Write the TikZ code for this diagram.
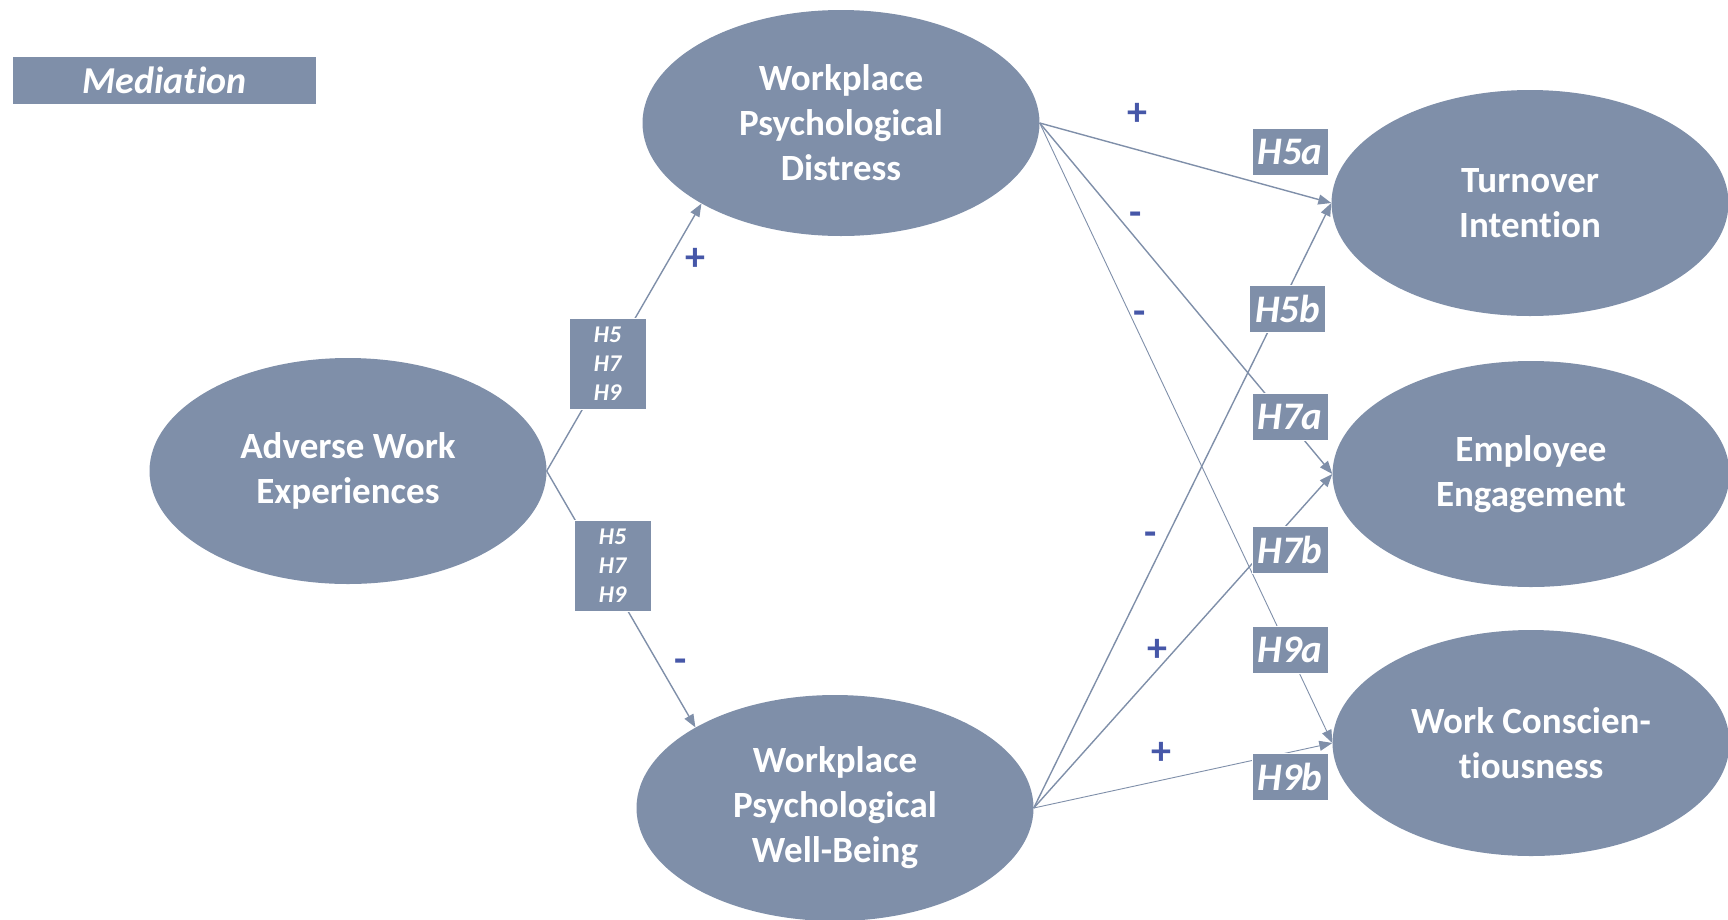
\documentclass[tikz,border=0pt]{standalone}
\usepackage{fontspec}
\setmainfont[Ligatures={NoCommon}]{Carlito}
\usetikzlibrary{arrows.meta,shapes.geometric}
\definecolor{slate}{HTML}{7F8FA9}
\definecolor{signblue}{HTML}{4657A8}
\begin{document}
\begin{tikzpicture}[x=1pt,y=-1pt,
  construct/.style={ellipse,fill=slate,draw=none,minimum width=397pt,minimum height=226pt,
    inner sep=0pt,align=center,text=white,font=\fontsize{37}{45}\selectfont\bfseries},
  hyp/.style={fill=slate,draw=white,line width=0.6pt,minimum width=76pt,minimum height=47pt,
    inner sep=0pt,text=white,font=\fontsize{39}{40}\selectfont\bfseries\itshape},
  hypgroup/.style={fill=slate,draw=white,line width=0.6pt,minimum width=77pt,minimum height=91pt,
    inner sep=0pt,align=center,text=white,font=\fontsize{24}{29}\selectfont\bfseries\itshape},
  sign/.style={text=signblue,inner sep=0pt,font=\fontsize{40}{40}\selectfont\bfseries},
  path/.style={draw=slate,line width=1.4pt,-{Triangle[length=13pt,width=10pt]}},
  thinpath/.style={draw=slate,line width=0.9pt,-{Triangle[length=13pt,width=10pt]}}]

\useasboundingbox (0,0) rectangle (1728,919);

% title tag
\node[fill=slate,minimum width=303pt,minimum height=47pt,inner sep=0pt,text=white,
  font=\fontsize{38}{40}\selectfont\bfseries\itshape] (title) at (164.5,80.5) {Mediation};

% constructs
\node[construct] (awe) at (348,471) {Adverse Work\\Experiences};
\node[construct] (wpd) at (841,123) {Workplace\\Psychological\\Distress};
\node[construct] (wpwb) at (835,808) {Workplace\\Psychological\\Well-Being};
\node[construct] (ti) at (1530,203) {Turnover\\Intention};
\node[construct] (ee) at (1531,474) {Employee\\Engagement};
\node[construct] (wc) at (1531,743) {Work Conscien-\\tiousness};

% paths
\draw[path] (awe.east) -- (wpd.210);
\draw[path] (awe.east) -- (wpwb.150);
\draw[path] (wpd.east) -- (ti.west);
\draw[path] (wpd.east) -- (ee.west);
\draw[thinpath] (wpd.east) -- (wc.west);
\draw[path] (wpwb.east) -- (ti.west);
\draw[path] (wpwb.east) -- (ee.west);
\draw[thinpath] (wpwb.east) -- (wc.west);

% hypothesis tags
\node[hypgroup] (hg1) at (607.5,363.5) {H5\\H7\\H9};
\node[hypgroup] (hg2) at (612.5,566) {H5\\H7\\H9};
\node[hyp] (h5a) at (1290,152) {H5a};
\node[hyp] (h5b) at (1287.5,308.5) {H5b};
\node[hyp] (h7a) at (1290,417) {H7a};
\node[hyp] (h7b) at (1290,549.5) {H7b};
\node[hyp] (h9a) at (1290,650) {H9a};
\node[hyp] (h9b) at (1290,776.5) {H9b};

% signs
\node[sign] (s1) at (695,259) {+};
\node[sign] (s2) at (681,666) {-};
\node[sign] (s3) at (1137,114) {+};
\node[sign] (s4) at (1136,219) {-};
\node[sign] (s5) at (1140,318) {-};
\node[sign] (s6) at (1151,539) {-};
\node[sign] (s7) at (1157,650) {+};
\node[sign] (s8) at (1161,753) {+};
\end{tikzpicture}
\end{document}
